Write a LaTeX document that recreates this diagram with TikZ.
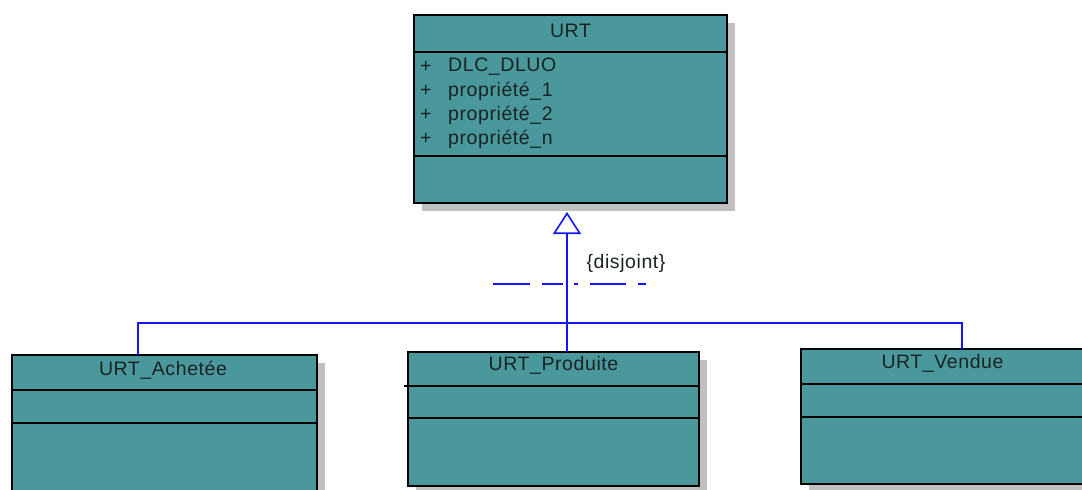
\documentclass[tikz,border=0pt]{standalone}
\usepackage{fontspec}
\setmainfont{Liberation Sans}[LetterSpace=3]
\usetikzlibrary{arrows.meta,shadows,calc}
\definecolor{teal1}{RGB}{74,152,155}
\definecolor{shad}{RGB}{192,192,192}
\definecolor{txt}{RGB}{25,35,35}
\definecolor{blu}{RGB}{20,20,255}
\tikzset{
  classbox/.style={draw=black, line width=1.6pt, fill=teal1, inner sep=0pt,
    drop shadow={shadow xshift=8pt, shadow yshift=-8pt, fill=shad, opacity=1}},
  sep/.style={draw=black, line width=1.6pt},
  lbl/.style={text=txt, inner sep=0pt, font=\fontsize{19.5}{24}\selectfont},
  gen/.style={draw=blu, line width=1.6pt},
}
\begin{document}
\begin{tikzpicture}[x=1pt,y=-1pt]
\useasboundingbox (0,0) rectangle (1082,490);
\clip (0,0) rectangle (1082,490);
% URT
\node[classbox, minimum width=313pt, minimum height=188pt] (urt) at (570.5,109) {};
\draw[sep] (414,52) -- (727,52);
\draw[sep] (414,156) -- (727,156);
\node[lbl] (urtname) at (570.5,31) {URT};
\node[lbl, anchor=west] (p0) at (420,67) {+};
\node[lbl, anchor=west] (a0) at (448,67) {DLC\_DLUO};
\node[lbl, anchor=west] (p1) at (420,91) {+};
\node[lbl, anchor=west] (a1) at (448,91) {propriété\_1};
\node[lbl, anchor=west] (p2) at (420,115) {+};
\node[lbl, anchor=west] (a2) at (448,115) {propriété\_2};
\node[lbl, anchor=west] (p3) at (420,139) {+};
\node[lbl, anchor=west] (a3) at (448,139) {propriété\_n};
% URT_Achetee
\node[classbox, minimum width=305pt, minimum height=180pt] (ach) at (164.5,445) {};
\draw[sep] (12,390) -- (317,390);
\draw[sep] (12,423) -- (317,423);
\node[lbl] (achname) at (163,370) {URT\_Achetée};
% URT_Produite
\node[classbox, minimum width=291pt, minimum height=134pt] (prod) at (553.5,419) {};
\draw[sep] (404,386) -- (699,386);
\draw[sep] (408,418) -- (699,418);
\node[lbl] (prodname) at (553.5,365) {URT\_Produite};
% URT_Vendue
\node[classbox, minimum width=284pt, minimum height=135pt] (vend) at (943,416.5) {};
\draw[sep] (801,384) -- (1085,384);
\draw[sep] (801,417) -- (1085,417);
\node[lbl] (vendname) at (942.5,363) {URT\_Vendue};
% generalisation
\coordinate (tip) at (567,212);
\coordinate (junc) at (567,323);
\coordinate (prodtop) at (567,352);
\coordinate (achtop) at (138,355);
\coordinate (vendtop) at (962,349);
\draw[gen, -{Triangle[open, width=28pt, length=22pt, line width=1.6pt]}] (prodtop) -- (tip);
\draw[gen] (achtop) |- (junc);
\draw[gen] (vendtop) |- (junc);
% disjoint constraint
\coordinate (dl) at (493,284);
\coordinate (dr) at (646,284);
\draw[draw=blu, line width=1.6pt, dash pattern=on 37pt off 12pt on 21pt off 11pt on 4pt off 12pt on 36pt off 12pt on 8pt] (dl) -- (dr);
\node[lbl] (disj) at (626,263) {\{disjoint\}};
\end{tikzpicture}
\end{document}
